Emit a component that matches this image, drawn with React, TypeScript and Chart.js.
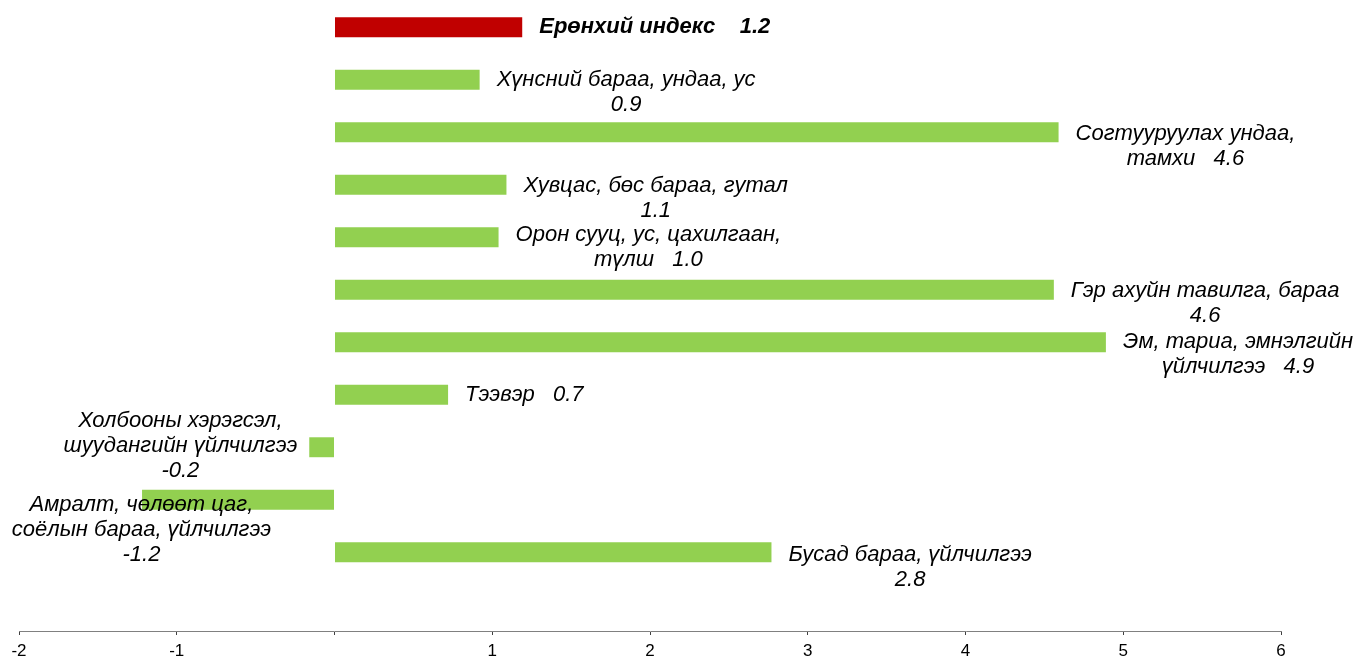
import React, { useEffect, useRef } from "react";
import { Chart, registerables } from "chart.js";

Chart.register(...registerables);

// ---- data ----
const categories: string[][] = [
  ["Ерөнхий индекс"],
  ["Хүнсний бараа, ундаа, ус"],
  ["Согтууруулах ундаа,", "тамхи"],
  ["Хувцас, бөс бараа, гутал"],
  ["Орон сууц, ус, цахилгаан,", "түлш"],
  ["Гэр ахуйн тавилга, бараа"],
  ["Эм, тариа, эмнэлгийн", "үйлчилгээ"],
  ["Тээвэр"],
  ["Холбооны хэрэгсэл,", "шуудангийн үйлчилгээ"],
  ["Амралт, чөлөөт цаг,", "соёлын бараа, үйлчилгээ"],
  ["Бусад бараа, үйлчилгээ"],
  [""],
];
const values: (number | null)[] = [1.19, 0.92, 4.59, 1.09, 1.04, 4.56, 4.89, 0.72, -0.16, -1.22, 2.77, null];
const valueOnNewLine: boolean[] = [false, true, false, true, false, true, false, false, true, true, true, false];
const xTicks: number[] = [-2, -1, 0, 1, 2, 3, 4, 5, 6];

// label placement tweaks (pixels) relative to default anchor
const labelShift: [number, number][] = [
  [0, 0], [0, 0], [0, 2], [0, 1], [0, -2], [0, 1], [0, 0], [0, 0], [0, -1], [141, 30], [0, 3], [0, 0],
];

const RED = "#C00000";
const GREEN = "#92D050";
const FONT = "'Liberation Sans', Arial, sans-serif";

const labelPlugin = {
  id: "barLabels",
  afterDatasetsDraw(chart: any) {
    const ctx = chart.ctx;
    const meta = chart.getDatasetMeta(0);
    ctx.save();
    ctx.fillStyle = "#000";
    ctx.textBaseline = "middle";
    ctx.textAlign = "center";
    const lineH = 25;
    meta.data.forEach((bar: any, i: number) => {
      const v = values[i];
      if (v === null || v === undefined) return;
      const bold = i === 0;
      ctx.font = `italic ${bold ? "bold " : ""}22px ${FONT}`;
      const vs = v.toFixed(1);
      const lines = categories[i].slice();
      if (valueOnNewLine[i]) lines.push(vs);
      else lines[lines.length - 1] = lines[lines.length - 1] + (bold ? "    " : "   ") + vs;
      const w = Math.max(...lines.map((l) => ctx.measureText(l).width));
      const [dx, dy] = labelShift[i];
      let cx: number;
      let y0: number;
      if (v >= 0) {
        cx = bar.x + 17 + w / 2;
        y0 = bar.y;
      } else {
        cx = bar.x - 12 - w / 2;
        y0 = bar.y - ((lines.length - 1) * lineH) / 2;
      }
      cx += dx;
      y0 += dy;
      lines.forEach((l, k) => ctx.fillText(l, cx, y0 + k * lineH));
    });
    ctx.restore();
  },
};

export default function App() {
  const ref = useRef<HTMLCanvasElement | null>(null);
  useEffect(() => {
    document.body.style.margin = "0";
    const chart = new Chart(ref.current as HTMLCanvasElement, {
      type: "bar",
      data: {
        labels: categories.map((c) => c.join(" ")),
        datasets: [
          {
            data: values as any,
            backgroundColor: values.map((_, i) => (i === 0 ? RED : GREEN)),
            borderWidth: 0,
            barPercentage: 0.38,
            categoryPercentage: 1,
          },
        ],
      },
      options: {
        indexAxis: "y",
        animation: false,
        responsive: false,
        maintainAspectRatio: false,
        layout: { padding: { left: 19, right: 76, top: 1, bottom: 0 } },
        plugins: { legend: { display: false }, tooltip: { enabled: false }, title: { display: false } },
        scales: {
          x: {
            type: "linear",
            min: -2,
            max: 6,
            afterBuildTicks: (axis: any) => {
              axis.ticks = xTicks.map((v) => ({ value: v }));
            },
            afterFit: (axis: any) => {
              axis.height = 27;
            },
            ticks: {
              callback: (v: any) => (Number(v) === 0 ? "" : String(v)),
              color: "#000",
              font: { family: FONT, size: 17 },
              padding: 6,
              maxRotation: 0,
            },
            grid: { drawOnChartArea: false, drawTicks: true, tickLength: 4, color: "#404040" },
            border: { color: "#808080", width: 1 },
          },
          y: { display: false },
        },
      },
      plugins: [labelPlugin],
    });
    return () => chart.destroy();
  }, []);
  return (
    <div style={{ width: 1357, height: 658, position: "relative" }}>
      <canvas ref={ref} width={1357} height={658} style={{ display: "block" }} />
    </div>
  );
}
